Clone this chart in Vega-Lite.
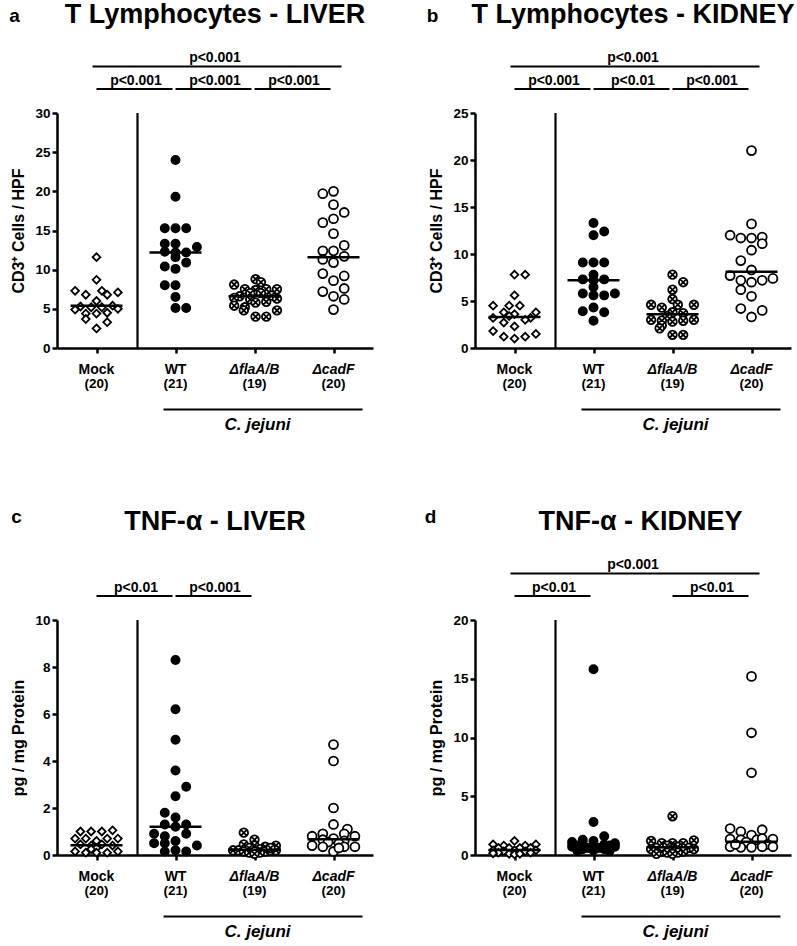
{
"$schema":"https://vega.github.io/schema/vega-lite/v6.json",
"padding":{"left":9,"top":1,"right":0,"bottom":0},
"columns":2,
"spacing":{"row":272,"column":102},
"bounds":"flush",
"datasets":{
"panels":[{"p":"a","letter":"a","title":"T Lymphocytes - LIVER"},{"p":"b","letter":"b","title":"T Lymphocytes - KIDNEY"},{"p":"c","letter":"c","title":"TNF-α - LIVER"},{"p":"d","letter":"d","title":"TNF-α - KIDNEY"}],
"cats":[{"g":"Mock","n":"(20)"},{"g":"WT","n":"(21)"},{"g":"ΔflaA/B","n":"(19)"},{"g":"ΔcadF","n":"(20)"}],
"strain":[{"label":"C. jejuni","from":"WT","to":"ΔcadF","mid":"ΔflaA/B"}],
"sig":[
{"p":"a","tier":1,"from":"Mock","to":"ΔcadF","label":"p<0.001"},{"p":"a","tier":2,"from":"Mock","to":"WT","label":"p<0.001"},{"p":"a","tier":2,"from":"WT","to":"ΔflaA/B","label":"p<0.001"},{"p":"a","tier":2,"from":"ΔflaA/B","to":"ΔcadF","label":"p<0.001"},
{"p":"b","tier":1,"from":"Mock","to":"ΔcadF","label":"p<0.001"},{"p":"b","tier":2,"from":"Mock","to":"WT","label":"p<0.001"},{"p":"b","tier":2,"from":"WT","to":"ΔflaA/B","label":"p<0.01"},{"p":"b","tier":2,"from":"ΔflaA/B","to":"ΔcadF","label":"p<0.001"},
{"p":"c","tier":2,"from":"Mock","to":"WT","label":"p<0.01"},{"p":"c","tier":2,"from":"WT","to":"ΔflaA/B","label":"p<0.001"},
{"p":"d","tier":1,"from":"Mock","to":"ΔcadF","label":"p<0.001"},{"p":"d","tier":2,"from":"Mock","to":"WT","label":"p<0.01"},{"p":"d","tier":2,"from":"ΔflaA/B","to":"ΔcadF","label":"p<0.01"}],
"med":[
{"p":"a","g":"Mock","v":5.4},{"p":"a","g":"WT","v":12.2},{"p":"a","g":"ΔflaA/B","v":6.6},{"p":"a","g":"ΔcadF","v":11.6},
{"p":"b","g":"Mock","v":3.3},{"p":"b","g":"WT","v":7.2},{"p":"b","g":"ΔflaA/B","v":3.6},{"p":"b","g":"ΔcadF","v":8.1},
{"p":"c","g":"Mock","v":0.42},{"p":"c","g":"WT","v":1.2},{"p":"c","g":"ΔflaA/B","v":0.22},{"p":"c","g":"ΔcadF","v":0.67},
{"p":"d","g":"Mock","v":0.43},{"p":"d","g":"WT","v":0.9},{"p":"d","g":"ΔflaA/B","v":0.65},{"p":"d","g":"ΔcadF","v":1.13}],
"pts":[
{"p":"a","g":"Mock","v":11.6,"s":0},{"p":"a","g":"Mock","v":8.7,"s":0},{"p":"a","g":"Mock","v":7.3,"s":-2},{"p":"a","g":"Mock","v":6.8,"s":-1},{"p":"a","g":"Mock","v":7.3,"s":0.5},{"p":"a","g":"Mock","v":6.8,"s":1},{"p":"a","g":"Mock","v":7.1,"s":2},{"p":"a","g":"Mock","v":6.0,"s":0},{"p":"a","g":"Mock","v":5.3,"s":-1.5},{"p":"a","g":"Mock","v":5.2,"s":-0.5},{"p":"a","g":"Mock","v":5.2,"s":0.5},{"p":"a","g":"Mock","v":5.4,"s":1.5},{"p":"a","g":"Mock","v":4.9,"s":-2},{"p":"a","g":"Mock","v":5.0,"s":2},{"p":"a","g":"Mock","v":4.4,"s":-1},{"p":"a","g":"Mock","v":4.4,"s":0},{"p":"a","g":"Mock","v":4.5,"s":1},{"p":"a","g":"Mock","v":3.7,"s":-1},{"p":"a","g":"Mock","v":3.3,"s":1},{"p":"a","g":"Mock","v":2.5,"s":0},
{"p":"a","g":"WT","v":24.0,"s":0},{"p":"a","g":"WT","v":19.3,"s":0},{"p":"a","g":"WT","v":15.3,"s":-1},{"p":"a","g":"WT","v":15.3,"s":0},{"p":"a","g":"WT","v":15.3,"s":1},{"p":"a","g":"WT","v":13.3,"s":-1},{"p":"a","g":"WT","v":13.3,"s":0},{"p":"a","g":"WT","v":12.9,"s":2},{"p":"a","g":"WT","v":12.3,"s":-1},{"p":"a","g":"WT","v":12.2,"s":0},{"p":"a","g":"WT","v":12.2,"s":1},{"p":"a","g":"WT","v":11.6,"s":0},{"p":"a","g":"WT","v":10.9,"s":1},{"p":"a","g":"WT","v":10.4,"s":-1},{"p":"a","g":"WT","v":10.1,"s":0},{"p":"a","g":"WT","v":8.0,"s":-1},{"p":"a","g":"WT","v":8.0,"s":0},{"p":"a","g":"WT","v":6.5,"s":0},{"p":"a","g":"WT","v":5.1,"s":0},{"p":"a","g":"WT","v":5.1,"s":1},
{"p":"a","g":"ΔflaA/B","v":8.8,"s":0.1},{"p":"a","g":"ΔflaA/B","v":8.4,"s":0.6},{"p":"a","g":"ΔflaA/B","v":8.1,"s":-1.9},{"p":"a","g":"ΔflaA/B","v":7.5,"s":-0.9},{"p":"a","g":"ΔflaA/B","v":7.4,"s":0.1},{"p":"a","g":"ΔflaA/B","v":7.5,"s":1.1},{"p":"a","g":"ΔflaA/B","v":7.5,"s":2.1},{"p":"a","g":"ΔflaA/B","v":7.0,"s":-0.4},{"p":"a","g":"ΔflaA/B","v":7.0,"s":0.6},{"p":"a","g":"ΔflaA/B","v":6.6,"s":-1.4},{"p":"a","g":"ΔflaA/B","v":6.4,"s":-1.9},{"p":"a","g":"ΔflaA/B","v":6.7,"s":1.6},{"p":"a","g":"ΔflaA/B","v":6.3,"s":2.1},{"p":"a","g":"ΔflaA/B","v":6.2,"s":-0.4},{"p":"a","g":"ΔflaA/B","v":5.8,"s":0.1},{"p":"a","g":"ΔflaA/B","v":5.9,"s":1.1},{"p":"a","g":"ΔflaA/B","v":5.4,"s":-1.9},{"p":"a","g":"ΔflaA/B","v":5.2,"s":-0.9},{"p":"a","g":"ΔflaA/B","v":4.8,"s":-1.0},{"p":"a","g":"ΔflaA/B","v":4.8,"s":2.1},{"p":"a","g":"ΔflaA/B","v":4.0,"s":0.1},{"p":"a","g":"ΔflaA/B","v":4.0,"s":1.1},
{"p":"a","g":"ΔcadF","v":20.0,"s":0},{"p":"a","g":"ΔcadF","v":19.7,"s":-1},{"p":"a","g":"ΔcadF","v":18.3,"s":0},{"p":"a","g":"ΔcadF","v":17.3,"s":1},{"p":"a","g":"ΔcadF","v":16.5,"s":0},{"p":"a","g":"ΔcadF","v":16.0,"s":-1},{"p":"a","g":"ΔcadF","v":14.6,"s":0},{"p":"a","g":"ΔcadF","v":13.1,"s":1},{"p":"a","g":"ΔcadF","v":12.4,"s":-1},{"p":"a","g":"ΔcadF","v":12.4,"s":0},{"p":"a","g":"ΔcadF","v":11.7,"s":1},{"p":"a","g":"ΔcadF","v":11.3,"s":-1},{"p":"a","g":"ΔcadF","v":10.9,"s":0},{"p":"a","g":"ΔcadF","v":9.5,"s":-1},{"p":"a","g":"ΔcadF","v":9.2,"s":1},{"p":"a","g":"ΔcadF","v":8.6,"s":0},{"p":"a","g":"ΔcadF","v":7.6,"s":1},{"p":"a","g":"ΔcadF","v":7.2,"s":-1},{"p":"a","g":"ΔcadF","v":6.6,"s":0},{"p":"a","g":"ΔcadF","v":6.2,"s":1},{"p":"a","g":"ΔcadF","v":4.9,"s":0},
{"p":"b","g":"Mock","v":7.8,"s":0},{"p":"b","g":"Mock","v":7.8,"s":1},{"p":"b","g":"Mock","v":5.6,"s":0},{"p":"b","g":"Mock","v":4.5,"s":-2},{"p":"b","g":"Mock","v":4.5,"s":-0.5},{"p":"b","g":"Mock","v":4.5,"s":0.5},{"p":"b","g":"Mock","v":3.8,"s":-1},{"p":"b","g":"Mock","v":3.8,"s":2},{"p":"b","g":"Mock","v":3.6,"s":0},{"p":"b","g":"Mock","v":3.2,"s":-2},{"p":"b","g":"Mock","v":3.4,"s":-0.5},{"p":"b","g":"Mock","v":3.2,"s":1.5},{"p":"b","g":"Mock","v":3.0,"s":1},{"p":"b","g":"Mock","v":2.7,"s":-1},{"p":"b","g":"Mock","v":2.3,"s":0},{"p":"b","g":"Mock","v":1.8,"s":-2},{"p":"b","g":"Mock","v":1.5,"s":2},{"p":"b","g":"Mock","v":1.2,"s":-1},{"p":"b","g":"Mock","v":1.0,"s":0},{"p":"b","g":"Mock","v":1.2,"s":1},
{"p":"b","g":"WT","v":13.3,"s":0},{"p":"b","g":"WT","v":12.4,"s":1},{"p":"b","g":"WT","v":12.0,"s":0},{"p":"b","g":"WT","v":9.1,"s":-1},{"p":"b","g":"WT","v":9.1,"s":0},{"p":"b","g":"WT","v":9.1,"s":1},{"p":"b","g":"WT","v":7.8,"s":0},{"p":"b","g":"WT","v":7.3,"s":-1},{"p":"b","g":"WT","v":7.3,"s":1},{"p":"b","g":"WT","v":7.2,"s":0},{"p":"b","g":"WT","v":6.5,"s":0},{"p":"b","g":"WT","v":5.8,"s":-1},{"p":"b","g":"WT","v":5.6,"s":0},{"p":"b","g":"WT","v":5.6,"s":1},{"p":"b","g":"WT","v":5.8,"s":2},{"p":"b","g":"WT","v":3.9,"s":-1},{"p":"b","g":"WT","v":4.3,"s":0},{"p":"b","g":"WT","v":3.8,"s":1},{"p":"b","g":"WT","v":2.9,"s":0},
{"p":"b","g":"ΔflaA/B","v":7.8,"s":0},{"p":"b","g":"ΔflaA/B","v":7.0,"s":1},{"p":"b","g":"ΔflaA/B","v":6.2,"s":0},{"p":"b","g":"ΔflaA/B","v":5.2,"s":0},{"p":"b","g":"ΔflaA/B","v":4.6,"s":-2},{"p":"b","g":"ΔflaA/B","v":4.3,"s":-1},{"p":"b","g":"ΔflaA/B","v":4.6,"s":0.5},{"p":"b","g":"ΔflaA/B","v":4.6,"s":2},{"p":"b","g":"ΔflaA/B","v":3.8,"s":0},{"p":"b","g":"ΔflaA/B","v":3.7,"s":1},{"p":"b","g":"ΔflaA/B","v":3.4,"s":-0.5},{"p":"b","g":"ΔflaA/B","v":3.0,"s":-2},{"p":"b","g":"ΔflaA/B","v":2.9,"s":-1},{"p":"b","g":"ΔflaA/B","v":2.8,"s":0},{"p":"b","g":"ΔflaA/B","v":2.9,"s":1},{"p":"b","g":"ΔflaA/B","v":3.0,"s":2},{"p":"b","g":"ΔflaA/B","v":2.4,"s":-1},{"p":"b","g":"ΔflaA/B","v":2.1,"s":-1.2},{"p":"b","g":"ΔflaA/B","v":1.4,"s":0},{"p":"b","g":"ΔflaA/B","v":1.4,"s":1},
{"p":"b","g":"ΔcadF","v":21.0,"s":0},{"p":"b","g":"ΔcadF","v":13.2,"s":0},{"p":"b","g":"ΔcadF","v":12.0,"s":-2},{"p":"b","g":"ΔcadF","v":11.7,"s":-1},{"p":"b","g":"ΔcadF","v":11.7,"s":0},{"p":"b","g":"ΔcadF","v":11.8,"s":1},{"p":"b","g":"ΔcadF","v":11.1,"s":1},{"p":"b","g":"ΔcadF","v":10.4,"s":0},{"p":"b","g":"ΔcadF","v":9.3,"s":-1},{"p":"b","g":"ΔcadF","v":8.3,"s":0},{"p":"b","g":"ΔcadF","v":7.7,"s":-2},{"p":"b","g":"ΔcadF","v":7.2,"s":-1},{"p":"b","g":"ΔcadF","v":7.0,"s":0},{"p":"b","g":"ΔcadF","v":7.2,"s":1},{"p":"b","g":"ΔcadF","v":7.4,"s":2},{"p":"b","g":"ΔcadF","v":6.2,"s":-1},{"p":"b","g":"ΔcadF","v":5.5,"s":0},{"p":"b","g":"ΔcadF","v":4.2,"s":-1},{"p":"b","g":"ΔcadF","v":4.0,"s":1},{"p":"b","g":"ΔcadF","v":3.3,"s":0},
{"p":"c","g":"Mock","v":1.0,"s":-1.5},{"p":"c","g":"Mock","v":1.0,"s":-0.5},{"p":"c","g":"Mock","v":1.0,"s":0.5},{"p":"c","g":"Mock","v":1.05,"s":1.5},{"p":"c","g":"Mock","v":0.7,"s":-2},{"p":"c","g":"Mock","v":0.7,"s":-1},{"p":"c","g":"Mock","v":0.6,"s":0},{"p":"c","g":"Mock","v":0.7,"s":1},{"p":"c","g":"Mock","v":0.7,"s":2},{"p":"c","g":"Mock","v":0.45,"s":-1.5},{"p":"c","g":"Mock","v":0.4,"s":-0.5},{"p":"c","g":"Mock","v":0.45,"s":0.5},{"p":"c","g":"Mock","v":0.4,"s":1.5},{"p":"c","g":"Mock","v":0.3,"s":0},{"p":"c","g":"Mock","v":0.15,"s":-2},{"p":"c","g":"Mock","v":0.1,"s":-1},{"p":"c","g":"Mock","v":0.1,"s":0},{"p":"c","g":"Mock","v":0.1,"s":1},{"p":"c","g":"Mock","v":0.15,"s":2},{"p":"c","g":"Mock","v":0.25,"s":-0.5},
{"p":"c","g":"WT","v":8.3,"s":0},{"p":"c","g":"WT","v":6.2,"s":0},{"p":"c","g":"WT","v":4.9,"s":0},{"p":"c","g":"WT","v":3.6,"s":0},{"p":"c","g":"WT","v":2.9,"s":1},{"p":"c","g":"WT","v":2.5,"s":0},{"p":"c","g":"WT","v":1.8,"s":-1},{"p":"c","g":"WT","v":1.6,"s":0},{"p":"c","g":"WT","v":1.3,"s":-1},{"p":"c","g":"WT","v":1.2,"s":0},{"p":"c","g":"WT","v":1.3,"s":1},{"p":"c","g":"WT","v":0.9,"s":-2},{"p":"c","g":"WT","v":0.8,"s":-1},{"p":"c","g":"WT","v":0.9,"s":1},{"p":"c","g":"WT","v":0.5,"s":-2},{"p":"c","g":"WT","v":0.5,"s":-1},{"p":"c","g":"WT","v":0.6,"s":0},{"p":"c","g":"WT","v":0.4,"s":2},{"p":"c","g":"WT","v":0.15,"s":-1},{"p":"c","g":"WT","v":0.2,"s":0},{"p":"c","g":"WT","v":0.15,"s":1},
{"p":"c","g":"ΔflaA/B","v":0.95,"s":-1},{"p":"c","g":"ΔflaA/B","v":0.65,"s":0},{"p":"c","g":"ΔflaA/B","v":0.45,"s":-1},{"p":"c","g":"ΔflaA/B","v":0.4,"s":0},{"p":"c","g":"ΔflaA/B","v":0.35,"s":1},{"p":"c","g":"ΔflaA/B","v":0.4,"s":2},{"p":"c","g":"ΔflaA/B","v":0.3,"s":-0.5},{"p":"c","g":"ΔflaA/B","v":0.25,"s":0.5},{"p":"c","g":"ΔflaA/B","v":0.2,"s":-2},{"p":"c","g":"ΔflaA/B","v":0.2,"s":-1.5},{"p":"c","g":"ΔflaA/B","v":0.15,"s":-1},{"p":"c","g":"ΔflaA/B","v":0.15,"s":0},{"p":"c","g":"ΔflaA/B","v":0.15,"s":1},{"p":"c","g":"ΔflaA/B","v":0.2,"s":1.5},{"p":"c","g":"ΔflaA/B","v":0.2,"s":2},{"p":"c","g":"ΔflaA/B","v":0.1,"s":-0.5},{"p":"c","g":"ΔflaA/B","v":0.1,"s":0.5},{"p":"c","g":"ΔflaA/B","v":0.3,"s":1.5},{"p":"c","g":"ΔflaA/B","v":0.05,"s":0},
{"p":"c","g":"ΔcadF","v":4.7,"s":0},{"p":"c","g":"ΔcadF","v":4.0,"s":0},{"p":"c","g":"ΔcadF","v":2.0,"s":0},{"p":"c","g":"ΔcadF","v":1.3,"s":0},{"p":"c","g":"ΔcadF","v":1.1,"s":1.3},{"p":"c","g":"ΔcadF","v":0.9,"s":-1},{"p":"c","g":"ΔcadF","v":0.9,"s":1},{"p":"c","g":"ΔcadF","v":0.8,"s":-2},{"p":"c","g":"ΔcadF","v":0.8,"s":2},{"p":"c","g":"ΔcadF","v":0.7,"s":0},{"p":"c","g":"ΔcadF","v":0.65,"s":-1},{"p":"c","g":"ΔcadF","v":0.6,"s":1},{"p":"c","g":"ΔcadF","v":0.55,"s":-0.5},{"p":"c","g":"ΔcadF","v":0.5,"s":0.5},{"p":"c","g":"ΔcadF","v":0.4,"s":-2},{"p":"c","g":"ΔcadF","v":0.35,"s":-1},{"p":"c","g":"ΔcadF","v":0.35,"s":1},{"p":"c","g":"ΔcadF","v":0.35,"s":2},{"p":"c","g":"ΔcadF","v":0.15,"s":0},{"p":"c","g":"ΔcadF","v":0.3,"s":0.5},
{"p":"d","g":"Mock","v":1.2,"s":0},{"p":"d","g":"Mock","v":0.9,"s":-2},{"p":"d","g":"Mock","v":0.8,"s":-1},{"p":"d","g":"Mock","v":0.8,"s":1},{"p":"d","g":"Mock","v":0.9,"s":2},{"p":"d","g":"Mock","v":0.6,"s":-1.5},{"p":"d","g":"Mock","v":0.6,"s":-0.5},{"p":"d","g":"Mock","v":0.6,"s":0.5},{"p":"d","g":"Mock","v":0.6,"s":1.5},{"p":"d","g":"Mock","v":0.4,"s":-2},{"p":"d","g":"Mock","v":0.4,"s":0},{"p":"d","g":"Mock","v":0.4,"s":2},{"p":"d","g":"Mock","v":0.3,"s":-1},{"p":"d","g":"Mock","v":0.3,"s":1},{"p":"d","g":"Mock","v":0.2,"s":-1.5},{"p":"d","g":"Mock","v":0.2,"s":1.5},{"p":"d","g":"Mock","v":0.1,"s":-0.5},{"p":"d","g":"Mock","v":0.05,"s":0},{"p":"d","g":"Mock","v":0.1,"s":0.5},{"p":"d","g":"Mock","v":0.15,"s":-2},
{"p":"d","g":"WT","v":15.8,"s":0},{"p":"d","g":"WT","v":2.8,"s":0},{"p":"d","g":"WT","v":1.6,"s":1},{"p":"d","g":"WT","v":1.3,"s":-1},{"p":"d","g":"WT","v":1.2,"s":0},{"p":"d","g":"WT","v":1.1,"s":-2},{"p":"d","g":"WT","v":1.0,"s":2},{"p":"d","g":"WT","v":1.0,"s":-1},{"p":"d","g":"WT","v":0.9,"s":0},{"p":"d","g":"WT","v":0.9,"s":1},{"p":"d","g":"WT","v":0.8,"s":-1.5},{"p":"d","g":"WT","v":0.8,"s":1.5},{"p":"d","g":"WT","v":0.7,"s":-2},{"p":"d","g":"WT","v":0.7,"s":2},{"p":"d","g":"WT","v":0.6,"s":-0.5},{"p":"d","g":"WT","v":0.6,"s":0.5},{"p":"d","g":"WT","v":0.5,"s":-1},{"p":"d","g":"WT","v":0.5,"s":1},{"p":"d","g":"WT","v":0.4,"s":0},{"p":"d","g":"WT","v":0.35,"s":-1.5},{"p":"d","g":"WT","v":0.35,"s":1.5},
{"p":"d","g":"ΔflaA/B","v":3.3,"s":0},{"p":"d","g":"ΔflaA/B","v":1.2,"s":-2},{"p":"d","g":"ΔflaA/B","v":1.0,"s":-1},{"p":"d","g":"ΔflaA/B","v":1.0,"s":0},{"p":"d","g":"ΔflaA/B","v":1.0,"s":1},{"p":"d","g":"ΔflaA/B","v":1.25,"s":2},{"p":"d","g":"ΔflaA/B","v":0.8,"s":-0.5},{"p":"d","g":"ΔflaA/B","v":0.7,"s":0.5},{"p":"d","g":"ΔflaA/B","v":0.6,"s":-1.5},{"p":"d","g":"ΔflaA/B","v":0.6,"s":1.5},{"p":"d","g":"ΔflaA/B","v":0.5,"s":-2},{"p":"d","g":"ΔflaA/B","v":0.5,"s":0},{"p":"d","g":"ΔflaA/B","v":0.5,"s":2},{"p":"d","g":"ΔflaA/B","v":0.3,"s":-1},{"p":"d","g":"ΔflaA/B","v":0.3,"s":1},{"p":"d","g":"ΔflaA/B","v":0.2,"s":-0.5},{"p":"d","g":"ΔflaA/B","v":0.2,"s":0.5},{"p":"d","g":"ΔflaA/B","v":0.1,"s":0},{"p":"d","g":"ΔflaA/B","v":0.1,"s":-1.5},
{"p":"d","g":"ΔcadF","v":15.2,"s":0},{"p":"d","g":"ΔcadF","v":10.4,"s":0},{"p":"d","g":"ΔcadF","v":7.0,"s":0},{"p":"d","g":"ΔcadF","v":2.25,"s":-2},{"p":"d","g":"ΔcadF","v":2.0,"s":-1},{"p":"d","g":"ΔcadF","v":1.7,"s":0},{"p":"d","g":"ΔcadF","v":2.15,"s":1},{"p":"d","g":"ΔcadF","v":1.35,"s":-2},{"p":"d","g":"ΔcadF","v":1.3,"s":-1},{"p":"d","g":"ΔcadF","v":1.3,"s":0.5},{"p":"d","g":"ΔcadF","v":1.4,"s":1},{"p":"d","g":"ΔcadF","v":1.35,"s":2},{"p":"d","g":"ΔcadF","v":1.1,"s":-0.5},{"p":"d","g":"ΔcadF","v":0.9,"s":1.5},{"p":"d","g":"ΔcadF","v":0.7,"s":-2},{"p":"d","g":"ΔcadF","v":0.65,"s":-1},{"p":"d","g":"ΔcadF","v":0.65,"s":0},{"p":"d","g":"ΔcadF","v":0.7,"s":1},{"p":"d","g":"ΔcadF","v":0.7,"s":2},{"p":"d","g":"ΔcadF","v":0.9,"s":-1.5}
]},
"concat":[
{"width":316,"height":235,"layer":[
{"data":{"name":"pts"},"transform":[{"filter":"datum.p=='a'"}],"mark":{"type":"point","stroke":"black","strokeWidth":1.8,"opacity":1,"fillOpacity":1},"encoding":{"x":{"field":"g","type":"nominal","scale":{"type":"point","domain":["Mock","WT","ΔflaA/B","ΔcadF"],"padding":0.5},"axis":{"title":null,"labels":false}},"xOffset":{"field":"s","type":"quantitative","scale":{"domain":[-1,1],"range":[-10.7,10.7],"nice":false}},"y":{"field":"v","type":"quantitative","scale":{"domain":[0,30],"nice":false},"axis":{"title":"CD3⁺ Cells / HPF","values":[0,5,10,15,20,25,30]}},"shape":{"field":"g","type":"nominal","scale":{"domain":["Mock","WT","ΔflaA/B","ΔcadF"],"range":["diamond","circle","M1,0A1,1,0,1,1,-1,0A1,1,0,1,1,1,0ZM-0.62,-0.62L0.62,0.62M-0.62,0.62L0.62,-0.62","circle"]},"legend":null},"fill":{"field":"g","type":"nominal","scale":{"domain":["Mock","WT","ΔflaA/B","ΔcadF"],"range":["white","black","white","white"]},"legend":null},"size":{"field":"g","type":"nominal","scale":{"domain":["Mock","WT","ΔflaA/B","ΔcadF"],"range":[60,80,80,75]},"legend":null}}},
{"data":{"name":"panels"},"transform":[{"filter":"datum.p=='a'"}],"mark":{"type":"rule","color":"black","strokeWidth":2.2,"xOffset":41},"encoding":{"x":{"datum":"Mock","type":"nominal","scale":{"type":"point","domain":["Mock","WT","ΔflaA/B","ΔcadF"],"padding":0.5},"axis":{"title":null,"labels":false}},"y":{"datum":0,"type":"quantitative","scale":{"domain":[0,30],"nice":false},"axis":{"title":"CD3⁺ Cells / HPF","values":[0,5,10,15,20,25,30]}},"y2":{"datum":30}}},
{"data":{"name":"med"},"transform":[{"filter":"datum.p=='a'"}],"mark":{"type":"tick","color":"black","thickness":2.5,"size":52,"opacity":1},"encoding":{"x":{"field":"g","type":"nominal","scale":{"type":"point","domain":["Mock","WT","ΔflaA/B","ΔcadF"],"padding":0.5},"axis":{"title":null,"labels":false}},"y":{"field":"v","type":"quantitative","scale":{"domain":[0,30],"nice":false},"axis":{"title":"CD3⁺ Cells / HPF","values":[0,5,10,15,20,25,30]}}}},
{"data":{"name":"sig"},"transform":[{"filter":"datum.p=='a' && datum.tier==1"}],"mark":{"type":"rule","color":"black","strokeWidth":2,"yOffset":-46.5,"xOffset":-4,"x2Offset":8},"encoding":{"x":{"field":"from","type":"nominal","scale":{"type":"point","domain":["Mock","WT","ΔflaA/B","ΔcadF"],"padding":0.5},"axis":{"title":null,"labels":false}},"x2":{"field":"to"},"y":{"datum":30,"type":"quantitative","scale":{"domain":[0,30],"nice":false},"axis":{"title":"CD3⁺ Cells / HPF","values":[0,5,10,15,20,25,30]}}}},
{"data":{"name":"sig"},"transform":[{"filter":"datum.p=='a' && datum.tier==1"}],"mark":{"type":"text","fontSize":14,"fontWeight":"bold","align":"center","baseline":"alphabetic","dx":118.5,"dy":-51.5,"color":"black"},"encoding":{"x":{"field":"from","type":"nominal","scale":{"type":"point","domain":["Mock","WT","ΔflaA/B","ΔcadF"],"padding":0.5},"axis":{"title":null,"labels":false}},"y":{"datum":30,"type":"quantitative","scale":{"domain":[0,30],"nice":false},"axis":{"title":"CD3⁺ Cells / HPF","values":[0,5,10,15,20,25,30]}},"text":{"field":"label"}}},
{"data":{"name":"sig"},"transform":[{"filter":"datum.p=='a' && datum.tier==2"}],"mark":{"type":"rule","color":"black","strokeWidth":2,"yOffset":-24,"xOffset":0,"x2Offset":-3},"encoding":{"x":{"field":"from","type":"nominal","scale":{"type":"point","domain":["Mock","WT","ΔflaA/B","ΔcadF"],"padding":0.5},"axis":{"title":null,"labels":false}},"x2":{"field":"to"},"y":{"datum":30,"type":"quantitative","scale":{"domain":[0,30],"nice":false},"axis":{"title":"CD3⁺ Cells / HPF","values":[0,5,10,15,20,25,30]}}}},
{"data":{"name":"sig"},"transform":[{"filter":"datum.p=='a' && datum.tier==2"}],"mark":{"type":"text","fontSize":14,"fontWeight":"bold","align":"center","baseline":"alphabetic","dx":39.5,"dy":-28.5,"color":"black"},"encoding":{"x":{"field":"from","type":"nominal","scale":{"type":"point","domain":["Mock","WT","ΔflaA/B","ΔcadF"],"padding":0.5},"axis":{"title":null,"labels":false}},"y":{"datum":30,"type":"quantitative","scale":{"domain":[0,30],"nice":false},"axis":{"title":"CD3⁺ Cells / HPF","values":[0,5,10,15,20,25,30]}},"text":{"field":"label"}}},
{"data":{"name":"cats"},"transform":[{"filter":"datum.g=='Mock' || datum.g=='WT'"}],"mark":{"type":"text","fontSize":14,"fontWeight":"bold","align":"center","baseline":"alphabetic","dy":25.5,"color":"black"},"encoding":{"x":{"field":"g","type":"nominal","scale":{"type":"point","domain":["Mock","WT","ΔflaA/B","ΔcadF"],"padding":0.5},"axis":{"title":null,"labels":false}},"y":{"datum":0,"type":"quantitative","scale":{"domain":[0,30],"nice":false},"axis":{"title":"CD3⁺ Cells / HPF","values":[0,5,10,15,20,25,30]}},"text":{"field":"g"}}},
{"data":{"name":"cats"},"transform":[{"filter":"datum.g!='Mock' && datum.g!='WT'"}],"mark":{"type":"text","fontSize":14,"fontWeight":"bold","fontStyle":"italic","align":"center","baseline":"alphabetic","dy":25.5,"color":"black"},"encoding":{"x":{"field":"g","type":"nominal","scale":{"type":"point","domain":["Mock","WT","ΔflaA/B","ΔcadF"],"padding":0.5},"axis":{"title":null,"labels":false}},"y":{"datum":0,"type":"quantitative","scale":{"domain":[0,30],"nice":false},"axis":{"title":"CD3⁺ Cells / HPF","values":[0,5,10,15,20,25,30]}},"text":{"field":"g"}}},
{"data":{"name":"cats"},"mark":{"type":"text","fontSize":13.5,"fontWeight":"bold","align":"center","baseline":"alphabetic","dy":40,"color":"black"},"encoding":{"x":{"field":"g","type":"nominal","scale":{"type":"point","domain":["Mock","WT","ΔflaA/B","ΔcadF"],"padding":0.5},"axis":{"title":null,"labels":false}},"y":{"datum":0,"type":"quantitative","scale":{"domain":[0,30],"nice":false},"axis":{"title":"CD3⁺ Cells / HPF","values":[0,5,10,15,20,25,30]}},"text":{"field":"n"}}},
{"data":{"name":"strain"},"mark":{"type":"rule","color":"black","strokeWidth":2,"xOffset":-12,"x2Offset":29,"yOffset":61.5},"encoding":{"x":{"field":"from","type":"nominal","scale":{"type":"point","domain":["Mock","WT","ΔflaA/B","ΔcadF"],"padding":0.5},"axis":{"title":null,"labels":false}},"x2":{"field":"to"},"y":{"datum":0,"type":"quantitative","scale":{"domain":[0,30],"nice":false},"axis":{"title":"CD3⁺ Cells / HPF","values":[0,5,10,15,20,25,30]}}}},
{"data":{"name":"strain"},"mark":{"type":"text","fontSize":17,"fontWeight":"bold","fontStyle":"italic","align":"center","baseline":"alphabetic","dx":3,"dy":82,"color":"black"},"encoding":{"x":{"field":"mid","type":"nominal","scale":{"type":"point","domain":["Mock","WT","ΔflaA/B","ΔcadF"],"padding":0.5},"axis":{"title":null,"labels":false}},"y":{"datum":0,"type":"quantitative","scale":{"domain":[0,30],"nice":false},"axis":{"title":"CD3⁺ Cells / HPF","values":[0,5,10,15,20,25,30]}},"text":{"field":"label"}}},
{"data":{"name":"panels"},"transform":[{"filter":"datum.p=='a'"}],"mark":{"type":"text","fontSize":19,"fontWeight":"bold","align":"center","baseline":"alphabetic","dx":-82,"dy":-91,"color":"black"},"encoding":{"x":{"datum":"Mock","type":"nominal","scale":{"type":"point","domain":["Mock","WT","ΔflaA/B","ΔcadF"],"padding":0.5},"axis":{"title":null,"labels":false}},"y":{"datum":30,"type":"quantitative","scale":{"domain":[0,30],"nice":false},"axis":{"title":"CD3⁺ Cells / HPF","values":[0,5,10,15,20,25,30]}},"text":{"field":"letter"}}},
{"data":{"name":"panels"},"transform":[{"filter":"datum.p=='a'"}],"mark":{"type":"text","fontSize":27,"fontWeight":"bold","align":"center","baseline":"alphabetic","dx":39.5,"dy":-90,"color":"black"},"encoding":{"x":{"datum":"WT","type":"nominal","scale":{"type":"point","domain":["Mock","WT","ΔflaA/B","ΔcadF"],"padding":0.5},"axis":{"title":null,"labels":false}},"y":{"datum":30,"type":"quantitative","scale":{"domain":[0,30],"nice":false},"axis":{"title":"CD3⁺ Cells / HPF","values":[0,5,10,15,20,25,30]}},"text":{"field":"title"}}}
]},
{"width":316,"height":235,"layer":[
{"data":{"name":"pts"},"transform":[{"filter":"datum.p=='b'"}],"mark":{"type":"point","stroke":"black","strokeWidth":1.8,"opacity":1,"fillOpacity":1},"encoding":{"x":{"field":"g","type":"nominal","scale":{"type":"point","domain":["Mock","WT","ΔflaA/B","ΔcadF"],"padding":0.5},"axis":{"title":null,"labels":false}},"xOffset":{"field":"s","type":"quantitative","scale":{"domain":[-1,1],"range":[-10.7,10.7],"nice":false}},"y":{"field":"v","type":"quantitative","scale":{"domain":[0,25],"nice":false},"axis":{"title":"CD3⁺ Cells / HPF","values":[0,5,10,15,20,25]}},"shape":{"field":"g","type":"nominal","scale":{"domain":["Mock","WT","ΔflaA/B","ΔcadF"],"range":["diamond","circle","M1,0A1,1,0,1,1,-1,0A1,1,0,1,1,1,0ZM-0.62,-0.62L0.62,0.62M-0.62,0.62L0.62,-0.62","circle"]},"legend":null},"fill":{"field":"g","type":"nominal","scale":{"domain":["Mock","WT","ΔflaA/B","ΔcadF"],"range":["white","black","white","white"]},"legend":null},"size":{"field":"g","type":"nominal","scale":{"domain":["Mock","WT","ΔflaA/B","ΔcadF"],"range":[60,80,80,75]},"legend":null}}},
{"data":{"name":"panels"},"transform":[{"filter":"datum.p=='b'"}],"mark":{"type":"rule","color":"black","strokeWidth":2.2,"xOffset":41},"encoding":{"x":{"datum":"Mock","type":"nominal","scale":{"type":"point","domain":["Mock","WT","ΔflaA/B","ΔcadF"],"padding":0.5},"axis":{"title":null,"labels":false}},"y":{"datum":0,"type":"quantitative","scale":{"domain":[0,25],"nice":false},"axis":{"title":"CD3⁺ Cells / HPF","values":[0,5,10,15,20,25]}},"y2":{"datum":25}}},
{"data":{"name":"med"},"transform":[{"filter":"datum.p=='b'"}],"mark":{"type":"tick","color":"black","thickness":2.5,"size":52,"opacity":1},"encoding":{"x":{"field":"g","type":"nominal","scale":{"type":"point","domain":["Mock","WT","ΔflaA/B","ΔcadF"],"padding":0.5},"axis":{"title":null,"labels":false}},"y":{"field":"v","type":"quantitative","scale":{"domain":[0,25],"nice":false},"axis":{"title":"CD3⁺ Cells / HPF","values":[0,5,10,15,20,25]}}}},
{"data":{"name":"sig"},"transform":[{"filter":"datum.p=='b' && datum.tier==1"}],"mark":{"type":"rule","color":"black","strokeWidth":2,"yOffset":-46.5,"xOffset":-4,"x2Offset":8},"encoding":{"x":{"field":"from","type":"nominal","scale":{"type":"point","domain":["Mock","WT","ΔflaA/B","ΔcadF"],"padding":0.5},"axis":{"title":null,"labels":false}},"x2":{"field":"to"},"y":{"datum":25,"type":"quantitative","scale":{"domain":[0,25],"nice":false},"axis":{"title":"CD3⁺ Cells / HPF","values":[0,5,10,15,20,25]}}}},
{"data":{"name":"sig"},"transform":[{"filter":"datum.p=='b' && datum.tier==1"}],"mark":{"type":"text","fontSize":14,"fontWeight":"bold","align":"center","baseline":"alphabetic","dx":118.5,"dy":-51.5,"color":"black"},"encoding":{"x":{"field":"from","type":"nominal","scale":{"type":"point","domain":["Mock","WT","ΔflaA/B","ΔcadF"],"padding":0.5},"axis":{"title":null,"labels":false}},"y":{"datum":25,"type":"quantitative","scale":{"domain":[0,25],"nice":false},"axis":{"title":"CD3⁺ Cells / HPF","values":[0,5,10,15,20,25]}},"text":{"field":"label"}}},
{"data":{"name":"sig"},"transform":[{"filter":"datum.p=='b' && datum.tier==2"}],"mark":{"type":"rule","color":"black","strokeWidth":2,"yOffset":-24,"xOffset":0,"x2Offset":-3},"encoding":{"x":{"field":"from","type":"nominal","scale":{"type":"point","domain":["Mock","WT","ΔflaA/B","ΔcadF"],"padding":0.5},"axis":{"title":null,"labels":false}},"x2":{"field":"to"},"y":{"datum":25,"type":"quantitative","scale":{"domain":[0,25],"nice":false},"axis":{"title":"CD3⁺ Cells / HPF","values":[0,5,10,15,20,25]}}}},
{"data":{"name":"sig"},"transform":[{"filter":"datum.p=='b' && datum.tier==2"}],"mark":{"type":"text","fontSize":14,"fontWeight":"bold","align":"center","baseline":"alphabetic","dx":39.5,"dy":-28.5,"color":"black"},"encoding":{"x":{"field":"from","type":"nominal","scale":{"type":"point","domain":["Mock","WT","ΔflaA/B","ΔcadF"],"padding":0.5},"axis":{"title":null,"labels":false}},"y":{"datum":25,"type":"quantitative","scale":{"domain":[0,25],"nice":false},"axis":{"title":"CD3⁺ Cells / HPF","values":[0,5,10,15,20,25]}},"text":{"field":"label"}}},
{"data":{"name":"cats"},"transform":[{"filter":"datum.g=='Mock' || datum.g=='WT'"}],"mark":{"type":"text","fontSize":14,"fontWeight":"bold","align":"center","baseline":"alphabetic","dy":25.5,"color":"black"},"encoding":{"x":{"field":"g","type":"nominal","scale":{"type":"point","domain":["Mock","WT","ΔflaA/B","ΔcadF"],"padding":0.5},"axis":{"title":null,"labels":false}},"y":{"datum":0,"type":"quantitative","scale":{"domain":[0,25],"nice":false},"axis":{"title":"CD3⁺ Cells / HPF","values":[0,5,10,15,20,25]}},"text":{"field":"g"}}},
{"data":{"name":"cats"},"transform":[{"filter":"datum.g!='Mock' && datum.g!='WT'"}],"mark":{"type":"text","fontSize":14,"fontWeight":"bold","fontStyle":"italic","align":"center","baseline":"alphabetic","dy":25.5,"color":"black"},"encoding":{"x":{"field":"g","type":"nominal","scale":{"type":"point","domain":["Mock","WT","ΔflaA/B","ΔcadF"],"padding":0.5},"axis":{"title":null,"labels":false}},"y":{"datum":0,"type":"quantitative","scale":{"domain":[0,25],"nice":false},"axis":{"title":"CD3⁺ Cells / HPF","values":[0,5,10,15,20,25]}},"text":{"field":"g"}}},
{"data":{"name":"cats"},"mark":{"type":"text","fontSize":13.5,"fontWeight":"bold","align":"center","baseline":"alphabetic","dy":40,"color":"black"},"encoding":{"x":{"field":"g","type":"nominal","scale":{"type":"point","domain":["Mock","WT","ΔflaA/B","ΔcadF"],"padding":0.5},"axis":{"title":null,"labels":false}},"y":{"datum":0,"type":"quantitative","scale":{"domain":[0,25],"nice":false},"axis":{"title":"CD3⁺ Cells / HPF","values":[0,5,10,15,20,25]}},"text":{"field":"n"}}},
{"data":{"name":"strain"},"mark":{"type":"rule","color":"black","strokeWidth":2,"xOffset":-12,"x2Offset":29,"yOffset":61.5},"encoding":{"x":{"field":"from","type":"nominal","scale":{"type":"point","domain":["Mock","WT","ΔflaA/B","ΔcadF"],"padding":0.5},"axis":{"title":null,"labels":false}},"x2":{"field":"to"},"y":{"datum":0,"type":"quantitative","scale":{"domain":[0,25],"nice":false},"axis":{"title":"CD3⁺ Cells / HPF","values":[0,5,10,15,20,25]}}}},
{"data":{"name":"strain"},"mark":{"type":"text","fontSize":17,"fontWeight":"bold","fontStyle":"italic","align":"center","baseline":"alphabetic","dx":3,"dy":82,"color":"black"},"encoding":{"x":{"field":"mid","type":"nominal","scale":{"type":"point","domain":["Mock","WT","ΔflaA/B","ΔcadF"],"padding":0.5},"axis":{"title":null,"labels":false}},"y":{"datum":0,"type":"quantitative","scale":{"domain":[0,25],"nice":false},"axis":{"title":"CD3⁺ Cells / HPF","values":[0,5,10,15,20,25]}},"text":{"field":"label"}}},
{"data":{"name":"panels"},"transform":[{"filter":"datum.p=='b'"}],"mark":{"type":"text","fontSize":19,"fontWeight":"bold","align":"center","baseline":"alphabetic","dx":-82,"dy":-91,"color":"black"},"encoding":{"x":{"datum":"Mock","type":"nominal","scale":{"type":"point","domain":["Mock","WT","ΔflaA/B","ΔcadF"],"padding":0.5},"axis":{"title":null,"labels":false}},"y":{"datum":25,"type":"quantitative","scale":{"domain":[0,25],"nice":false},"axis":{"title":"CD3⁺ Cells / HPF","values":[0,5,10,15,20,25]}},"text":{"field":"letter"}}},
{"data":{"name":"panels"},"transform":[{"filter":"datum.p=='b'"}],"mark":{"type":"text","fontSize":27,"fontWeight":"bold","align":"center","baseline":"alphabetic","dx":39.5,"dy":-90,"color":"black"},"encoding":{"x":{"datum":"WT","type":"nominal","scale":{"type":"point","domain":["Mock","WT","ΔflaA/B","ΔcadF"],"padding":0.5},"axis":{"title":null,"labels":false}},"y":{"datum":25,"type":"quantitative","scale":{"domain":[0,25],"nice":false},"axis":{"title":"CD3⁺ Cells / HPF","values":[0,5,10,15,20,25]}},"text":{"field":"title"}}}
]},
{"width":316,"height":235,"layer":[
{"data":{"name":"pts"},"transform":[{"filter":"datum.p=='c'"}],"mark":{"type":"point","stroke":"black","strokeWidth":1.8,"opacity":1,"fillOpacity":1},"encoding":{"x":{"field":"g","type":"nominal","scale":{"type":"point","domain":["Mock","WT","ΔflaA/B","ΔcadF"],"padding":0.5},"axis":{"title":null,"labels":false}},"xOffset":{"field":"s","type":"quantitative","scale":{"domain":[-1,1],"range":[-10.7,10.7],"nice":false}},"y":{"field":"v","type":"quantitative","scale":{"domain":[0,10],"nice":false},"axis":{"title":"pg / mg Protein","values":[0,2,4,6,8,10]}},"shape":{"field":"g","type":"nominal","scale":{"domain":["Mock","WT","ΔflaA/B","ΔcadF"],"range":["diamond","circle","M1,0A1,1,0,1,1,-1,0A1,1,0,1,1,1,0ZM-0.62,-0.62L0.62,0.62M-0.62,0.62L0.62,-0.62","circle"]},"legend":null},"fill":{"field":"g","type":"nominal","scale":{"domain":["Mock","WT","ΔflaA/B","ΔcadF"],"range":["white","black","white","white"]},"legend":null},"size":{"field":"g","type":"nominal","scale":{"domain":["Mock","WT","ΔflaA/B","ΔcadF"],"range":[60,80,80,75]},"legend":null}}},
{"data":{"name":"panels"},"transform":[{"filter":"datum.p=='c'"}],"mark":{"type":"rule","color":"black","strokeWidth":2.2,"xOffset":41},"encoding":{"x":{"datum":"Mock","type":"nominal","scale":{"type":"point","domain":["Mock","WT","ΔflaA/B","ΔcadF"],"padding":0.5},"axis":{"title":null,"labels":false}},"y":{"datum":0,"type":"quantitative","scale":{"domain":[0,10],"nice":false},"axis":{"title":"pg / mg Protein","values":[0,2,4,6,8,10]}},"y2":{"datum":10}}},
{"data":{"name":"med"},"transform":[{"filter":"datum.p=='c'"}],"mark":{"type":"tick","color":"black","thickness":2.5,"size":52,"opacity":1},"encoding":{"x":{"field":"g","type":"nominal","scale":{"type":"point","domain":["Mock","WT","ΔflaA/B","ΔcadF"],"padding":0.5},"axis":{"title":null,"labels":false}},"y":{"field":"v","type":"quantitative","scale":{"domain":[0,10],"nice":false},"axis":{"title":"pg / mg Protein","values":[0,2,4,6,8,10]}}}},
{"data":{"name":"sig"},"transform":[{"filter":"datum.p=='c' && datum.tier==2"}],"mark":{"type":"rule","color":"black","strokeWidth":2,"yOffset":-24,"xOffset":0,"x2Offset":-3},"encoding":{"x":{"field":"from","type":"nominal","scale":{"type":"point","domain":["Mock","WT","ΔflaA/B","ΔcadF"],"padding":0.5},"axis":{"title":null,"labels":false}},"x2":{"field":"to"},"y":{"datum":10,"type":"quantitative","scale":{"domain":[0,10],"nice":false},"axis":{"title":"pg / mg Protein","values":[0,2,4,6,8,10]}}}},
{"data":{"name":"sig"},"transform":[{"filter":"datum.p=='c' && datum.tier==2"}],"mark":{"type":"text","fontSize":14,"fontWeight":"bold","align":"center","baseline":"alphabetic","dx":39.5,"dy":-28.5,"color":"black"},"encoding":{"x":{"field":"from","type":"nominal","scale":{"type":"point","domain":["Mock","WT","ΔflaA/B","ΔcadF"],"padding":0.5},"axis":{"title":null,"labels":false}},"y":{"datum":10,"type":"quantitative","scale":{"domain":[0,10],"nice":false},"axis":{"title":"pg / mg Protein","values":[0,2,4,6,8,10]}},"text":{"field":"label"}}},
{"data":{"name":"cats"},"transform":[{"filter":"datum.g=='Mock' || datum.g=='WT'"}],"mark":{"type":"text","fontSize":14,"fontWeight":"bold","align":"center","baseline":"alphabetic","dy":25.5,"color":"black"},"encoding":{"x":{"field":"g","type":"nominal","scale":{"type":"point","domain":["Mock","WT","ΔflaA/B","ΔcadF"],"padding":0.5},"axis":{"title":null,"labels":false}},"y":{"datum":0,"type":"quantitative","scale":{"domain":[0,10],"nice":false},"axis":{"title":"pg / mg Protein","values":[0,2,4,6,8,10]}},"text":{"field":"g"}}},
{"data":{"name":"cats"},"transform":[{"filter":"datum.g!='Mock' && datum.g!='WT'"}],"mark":{"type":"text","fontSize":14,"fontWeight":"bold","fontStyle":"italic","align":"center","baseline":"alphabetic","dy":25.5,"color":"black"},"encoding":{"x":{"field":"g","type":"nominal","scale":{"type":"point","domain":["Mock","WT","ΔflaA/B","ΔcadF"],"padding":0.5},"axis":{"title":null,"labels":false}},"y":{"datum":0,"type":"quantitative","scale":{"domain":[0,10],"nice":false},"axis":{"title":"pg / mg Protein","values":[0,2,4,6,8,10]}},"text":{"field":"g"}}},
{"data":{"name":"cats"},"mark":{"type":"text","fontSize":13.5,"fontWeight":"bold","align":"center","baseline":"alphabetic","dy":40,"color":"black"},"encoding":{"x":{"field":"g","type":"nominal","scale":{"type":"point","domain":["Mock","WT","ΔflaA/B","ΔcadF"],"padding":0.5},"axis":{"title":null,"labels":false}},"y":{"datum":0,"type":"quantitative","scale":{"domain":[0,10],"nice":false},"axis":{"title":"pg / mg Protein","values":[0,2,4,6,8,10]}},"text":{"field":"n"}}},
{"data":{"name":"strain"},"mark":{"type":"rule","color":"black","strokeWidth":2,"xOffset":-12,"x2Offset":29,"yOffset":61.5},"encoding":{"x":{"field":"from","type":"nominal","scale":{"type":"point","domain":["Mock","WT","ΔflaA/B","ΔcadF"],"padding":0.5},"axis":{"title":null,"labels":false}},"x2":{"field":"to"},"y":{"datum":0,"type":"quantitative","scale":{"domain":[0,10],"nice":false},"axis":{"title":"pg / mg Protein","values":[0,2,4,6,8,10]}}}},
{"data":{"name":"strain"},"mark":{"type":"text","fontSize":17,"fontWeight":"bold","fontStyle":"italic","align":"center","baseline":"alphabetic","dx":3,"dy":82,"color":"black"},"encoding":{"x":{"field":"mid","type":"nominal","scale":{"type":"point","domain":["Mock","WT","ΔflaA/B","ΔcadF"],"padding":0.5},"axis":{"title":null,"labels":false}},"y":{"datum":0,"type":"quantitative","scale":{"domain":[0,10],"nice":false},"axis":{"title":"pg / mg Protein","values":[0,2,4,6,8,10]}},"text":{"field":"label"}}},
{"data":{"name":"panels"},"transform":[{"filter":"datum.p=='c'"}],"mark":{"type":"text","fontSize":19,"fontWeight":"bold","align":"center","baseline":"alphabetic","dx":-80,"dy":-97,"color":"black"},"encoding":{"x":{"datum":"Mock","type":"nominal","scale":{"type":"point","domain":["Mock","WT","ΔflaA/B","ΔcadF"],"padding":0.5},"axis":{"title":null,"labels":false}},"y":{"datum":10,"type":"quantitative","scale":{"domain":[0,10],"nice":false},"axis":{"title":"pg / mg Protein","values":[0,2,4,6,8,10]}},"text":{"field":"letter"}}},
{"data":{"name":"panels"},"transform":[{"filter":"datum.p=='c'"}],"mark":{"type":"text","fontSize":27,"fontWeight":"bold","align":"center","baseline":"alphabetic","dx":39.5,"dy":-90,"color":"black"},"encoding":{"x":{"datum":"WT","type":"nominal","scale":{"type":"point","domain":["Mock","WT","ΔflaA/B","ΔcadF"],"padding":0.5},"axis":{"title":null,"labels":false}},"y":{"datum":10,"type":"quantitative","scale":{"domain":[0,10],"nice":false},"axis":{"title":"pg / mg Protein","values":[0,2,4,6,8,10]}},"text":{"field":"title"}}}
]},
{"width":316,"height":235,"layer":[
{"data":{"name":"pts"},"transform":[{"filter":"datum.p=='d'"}],"mark":{"type":"point","stroke":"black","strokeWidth":1.8,"opacity":1,"fillOpacity":1},"encoding":{"x":{"field":"g","type":"nominal","scale":{"type":"point","domain":["Mock","WT","ΔflaA/B","ΔcadF"],"padding":0.5},"axis":{"title":null,"labels":false}},"xOffset":{"field":"s","type":"quantitative","scale":{"domain":[-1,1],"range":[-10.7,10.7],"nice":false}},"y":{"field":"v","type":"quantitative","scale":{"domain":[0,20],"nice":false},"axis":{"title":"pg / mg Protein","values":[0,5,10,15,20]}},"shape":{"field":"g","type":"nominal","scale":{"domain":["Mock","WT","ΔflaA/B","ΔcadF"],"range":["diamond","circle","M1,0A1,1,0,1,1,-1,0A1,1,0,1,1,1,0ZM-0.62,-0.62L0.62,0.62M-0.62,0.62L0.62,-0.62","circle"]},"legend":null},"fill":{"field":"g","type":"nominal","scale":{"domain":["Mock","WT","ΔflaA/B","ΔcadF"],"range":["white","black","white","white"]},"legend":null},"size":{"field":"g","type":"nominal","scale":{"domain":["Mock","WT","ΔflaA/B","ΔcadF"],"range":[60,80,80,75]},"legend":null}}},
{"data":{"name":"panels"},"transform":[{"filter":"datum.p=='d'"}],"mark":{"type":"rule","color":"black","strokeWidth":2.2,"xOffset":41},"encoding":{"x":{"datum":"Mock","type":"nominal","scale":{"type":"point","domain":["Mock","WT","ΔflaA/B","ΔcadF"],"padding":0.5},"axis":{"title":null,"labels":false}},"y":{"datum":0,"type":"quantitative","scale":{"domain":[0,20],"nice":false},"axis":{"title":"pg / mg Protein","values":[0,5,10,15,20]}},"y2":{"datum":20}}},
{"data":{"name":"med"},"transform":[{"filter":"datum.p=='d'"}],"mark":{"type":"tick","color":"black","thickness":2.5,"size":52,"opacity":1},"encoding":{"x":{"field":"g","type":"nominal","scale":{"type":"point","domain":["Mock","WT","ΔflaA/B","ΔcadF"],"padding":0.5},"axis":{"title":null,"labels":false}},"y":{"field":"v","type":"quantitative","scale":{"domain":[0,20],"nice":false},"axis":{"title":"pg / mg Protein","values":[0,5,10,15,20]}}}},
{"data":{"name":"sig"},"transform":[{"filter":"datum.p=='d' && datum.tier==1"}],"mark":{"type":"rule","color":"black","strokeWidth":2,"yOffset":-46.5,"xOffset":-4,"x2Offset":8},"encoding":{"x":{"field":"from","type":"nominal","scale":{"type":"point","domain":["Mock","WT","ΔflaA/B","ΔcadF"],"padding":0.5},"axis":{"title":null,"labels":false}},"x2":{"field":"to"},"y":{"datum":20,"type":"quantitative","scale":{"domain":[0,20],"nice":false},"axis":{"title":"pg / mg Protein","values":[0,5,10,15,20]}}}},
{"data":{"name":"sig"},"transform":[{"filter":"datum.p=='d' && datum.tier==1"}],"mark":{"type":"text","fontSize":14,"fontWeight":"bold","align":"center","baseline":"alphabetic","dx":118.5,"dy":-51.5,"color":"black"},"encoding":{"x":{"field":"from","type":"nominal","scale":{"type":"point","domain":["Mock","WT","ΔflaA/B","ΔcadF"],"padding":0.5},"axis":{"title":null,"labels":false}},"y":{"datum":20,"type":"quantitative","scale":{"domain":[0,20],"nice":false},"axis":{"title":"pg / mg Protein","values":[0,5,10,15,20]}},"text":{"field":"label"}}},
{"data":{"name":"sig"},"transform":[{"filter":"datum.p=='d' && datum.tier==2"}],"mark":{"type":"rule","color":"black","strokeWidth":2,"yOffset":-24,"xOffset":0,"x2Offset":-3},"encoding":{"x":{"field":"from","type":"nominal","scale":{"type":"point","domain":["Mock","WT","ΔflaA/B","ΔcadF"],"padding":0.5},"axis":{"title":null,"labels":false}},"x2":{"field":"to"},"y":{"datum":20,"type":"quantitative","scale":{"domain":[0,20],"nice":false},"axis":{"title":"pg / mg Protein","values":[0,5,10,15,20]}}}},
{"data":{"name":"sig"},"transform":[{"filter":"datum.p=='d' && datum.tier==2"}],"mark":{"type":"text","fontSize":14,"fontWeight":"bold","align":"center","baseline":"alphabetic","dx":39.5,"dy":-28.5,"color":"black"},"encoding":{"x":{"field":"from","type":"nominal","scale":{"type":"point","domain":["Mock","WT","ΔflaA/B","ΔcadF"],"padding":0.5},"axis":{"title":null,"labels":false}},"y":{"datum":20,"type":"quantitative","scale":{"domain":[0,20],"nice":false},"axis":{"title":"pg / mg Protein","values":[0,5,10,15,20]}},"text":{"field":"label"}}},
{"data":{"name":"cats"},"transform":[{"filter":"datum.g=='Mock' || datum.g=='WT'"}],"mark":{"type":"text","fontSize":14,"fontWeight":"bold","align":"center","baseline":"alphabetic","dy":25.5,"color":"black"},"encoding":{"x":{"field":"g","type":"nominal","scale":{"type":"point","domain":["Mock","WT","ΔflaA/B","ΔcadF"],"padding":0.5},"axis":{"title":null,"labels":false}},"y":{"datum":0,"type":"quantitative","scale":{"domain":[0,20],"nice":false},"axis":{"title":"pg / mg Protein","values":[0,5,10,15,20]}},"text":{"field":"g"}}},
{"data":{"name":"cats"},"transform":[{"filter":"datum.g!='Mock' && datum.g!='WT'"}],"mark":{"type":"text","fontSize":14,"fontWeight":"bold","fontStyle":"italic","align":"center","baseline":"alphabetic","dy":25.5,"color":"black"},"encoding":{"x":{"field":"g","type":"nominal","scale":{"type":"point","domain":["Mock","WT","ΔflaA/B","ΔcadF"],"padding":0.5},"axis":{"title":null,"labels":false}},"y":{"datum":0,"type":"quantitative","scale":{"domain":[0,20],"nice":false},"axis":{"title":"pg / mg Protein","values":[0,5,10,15,20]}},"text":{"field":"g"}}},
{"data":{"name":"cats"},"mark":{"type":"text","fontSize":13.5,"fontWeight":"bold","align":"center","baseline":"alphabetic","dy":40,"color":"black"},"encoding":{"x":{"field":"g","type":"nominal","scale":{"type":"point","domain":["Mock","WT","ΔflaA/B","ΔcadF"],"padding":0.5},"axis":{"title":null,"labels":false}},"y":{"datum":0,"type":"quantitative","scale":{"domain":[0,20],"nice":false},"axis":{"title":"pg / mg Protein","values":[0,5,10,15,20]}},"text":{"field":"n"}}},
{"data":{"name":"strain"},"mark":{"type":"rule","color":"black","strokeWidth":2,"xOffset":-12,"x2Offset":29,"yOffset":61.5},"encoding":{"x":{"field":"from","type":"nominal","scale":{"type":"point","domain":["Mock","WT","ΔflaA/B","ΔcadF"],"padding":0.5},"axis":{"title":null,"labels":false}},"x2":{"field":"to"},"y":{"datum":0,"type":"quantitative","scale":{"domain":[0,20],"nice":false},"axis":{"title":"pg / mg Protein","values":[0,5,10,15,20]}}}},
{"data":{"name":"strain"},"mark":{"type":"text","fontSize":17,"fontWeight":"bold","fontStyle":"italic","align":"center","baseline":"alphabetic","dx":3,"dy":82,"color":"black"},"encoding":{"x":{"field":"mid","type":"nominal","scale":{"type":"point","domain":["Mock","WT","ΔflaA/B","ΔcadF"],"padding":0.5},"axis":{"title":null,"labels":false}},"y":{"datum":0,"type":"quantitative","scale":{"domain":[0,20],"nice":false},"axis":{"title":"pg / mg Protein","values":[0,5,10,15,20]}},"text":{"field":"label"}}},
{"data":{"name":"panels"},"transform":[{"filter":"datum.p=='d'"}],"mark":{"type":"text","fontSize":19,"fontWeight":"bold","align":"center","baseline":"alphabetic","dx":-84,"dy":-97,"color":"black"},"encoding":{"x":{"datum":"Mock","type":"nominal","scale":{"type":"point","domain":["Mock","WT","ΔflaA/B","ΔcadF"],"padding":0.5},"axis":{"title":null,"labels":false}},"y":{"datum":20,"type":"quantitative","scale":{"domain":[0,20],"nice":false},"axis":{"title":"pg / mg Protein","values":[0,5,10,15,20]}},"text":{"field":"letter"}}},
{"data":{"name":"panels"},"transform":[{"filter":"datum.p=='d'"}],"mark":{"type":"text","fontSize":27,"fontWeight":"bold","align":"center","baseline":"alphabetic","dx":47,"dy":-90,"color":"black"},"encoding":{"x":{"datum":"WT","type":"nominal","scale":{"type":"point","domain":["Mock","WT","ΔflaA/B","ΔcadF"],"padding":0.5},"axis":{"title":null,"labels":false}},"y":{"datum":20,"type":"quantitative","scale":{"domain":[0,20],"nice":false},"axis":{"title":"pg / mg Protein","values":[0,5,10,15,20]}},"text":{"field":"title"}}}
]}
],
"config":{
"font":"Liberation Sans",
"view":{"stroke":null},
"axis":{"grid":false,"domainColor":"black","domainWidth":2.5,"tickColor":"black","tickWidth":2.5,"tickSize":5,"labelFontSize":13.5,"labelFontWeight":"bold","labelColor":"black","labelFont":"Liberation Sans","labelPadding":2,"titleFontSize":16,"titleFontWeight":"bold","titleColor":"black","titleFont":"Liberation Sans","titlePadding":8},
"text":{"color":"black","font":"Liberation Sans"}
}
}
